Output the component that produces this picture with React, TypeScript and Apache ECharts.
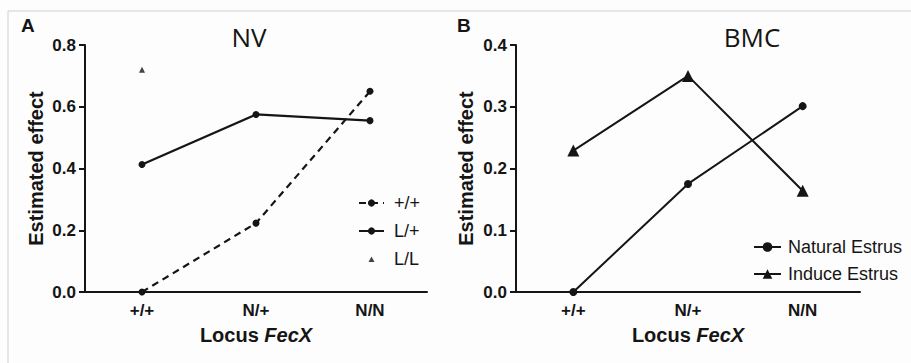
import React, { useEffect, useRef } from "react";
import * as echarts from "echarts";

const categories = ["+/+", "N/+", "N/N"];
// Panel A (NV)
const nvWildType = [0, 0.223, 0.65];
const nvLPlus = [0.413, 0.575, 0.555];
const nvLL = [0.72, null, null];
// Panel B (BMC)
const bmcNatural = [0, 0.175, 0.301];
const bmcInduce = [0.229, 0.35, 0.164];
const yTicksA = [0, 0.2, 0.4, 0.6, 0.8];
const yTicksB = [0, 0.1, 0.2, 0.3, 0.4];

const FONT = "'Liberation Sans', Arial, sans-serif";
const INK = "#151515";

function xAxisFor(gridIndex: number) {
  return {
    type: "category",
    gridIndex,
    data: categories,
    boundaryGap: true,
    axisLine: { lineStyle: { color: INK, width: 2 } },
    axisTick: { alignWithLabel: true, length: 6, lineStyle: { color: INK, width: 2 } },
    axisLabel: { color: INK, fontSize: 17, fontWeight: "bold", fontFamily: FONT, margin: 10 },
    name: "{a|Locus }{b|FecX}",
    nameLocation: "middle",
    nameGap: 33,
    nameTextStyle: {
      rich: {
        a: { fontSize: 20, fontWeight: "bold", fontFamily: FONT, color: INK },
        b: { fontSize: 20, fontWeight: "bold", fontStyle: "italic", fontFamily: FONT, color: INK },
      },
    },
  };
}

function yAxisFor(gridIndex: number, ticks: number[], gap: number) {
  const max = ticks[ticks.length - 1];
  return {
    type: "value",
    gridIndex,
    min: 0,
    max,
    interval: ticks[1] - ticks[0],
    splitLine: { show: false },
    axisLine: { show: true, lineStyle: { color: INK, width: 2 } },
    axisTick: { show: true, length: 6, lineStyle: { color: INK, width: 2 } },
    axisLabel: {
      color: INK,
      fontSize: 17,
      fontWeight: "bold",
      fontFamily: FONT,
      margin: 9,
      formatter: (v: number) => v.toFixed(1),
    },
    name: "Estimated effect",
    nameLocation: "middle",
    nameGap: gap,
    nameTextStyle: { fontSize: 20, fontWeight: "bold", fontFamily: FONT, color: INK },
  };
}

export default function App() {
  const ref = useRef<HTMLDivElement>(null);
  useEffect(() => {
    if (!ref.current) return;
    const chart = echarts.init(ref.current, undefined, { renderer: "svg" });
    chart.setOption({
      animation: false,
      backgroundColor: "#fdfdfd",
      grid: [
        { left: 85, top: 45, width: 342, height: 247 },
        { left: 516, top: 45, width: 344, height: 247 },
      ],
      xAxis: [xAxisFor(0), xAxisFor(1)],
      yAxis: [yAxisFor(0, yTicksA, 39), yAxisFor(1, yTicksB, 40)],
      legend: [
        {
          left: 353,
          top: 189,
          orient: "vertical",
          itemWidth: 25,
          itemHeight: 9,
          itemGap: 10,
          data: [
            "+/+",
            "L/+",
            { name: "L/L", icon: "path://M0,0M9,9M1.5,7.5L4.5,2L7.5,7.5Z" },
          ],
          textStyle: { fontSize: 18, fontFamily: FONT, color: INK, padding: [0, 0, 0, 5] },
        },
        {
          left: 748,
          top: 233,
          orient: "vertical",
          itemWidth: 27,
          itemHeight: 12,
          itemGap: 9,
          data: ["Natural Estrus", "Induce Estrus"],
          textStyle: { fontSize: 18, fontFamily: FONT, color: INK, padding: [0, 0, 0, 2] },
        },
      ],
      graphic: [
        {
          type: "rect",
          silent: true,
          shape: { x: 8, y: 11, width: 960, height: 420 },
          style: { fill: "none", stroke: "#cfcfcf", lineWidth: 1 },
        },
        {
          type: "text",
          left: 21,
          top: 16,
          style: { text: "A", font: `bold 19px ${FONT}`, fill: INK },
        },
        {
          type: "text",
          left: 457,
          top: 16,
          style: { text: "B", font: `bold 19px ${FONT}`, fill: INK },
        },
        {
          type: "text",
          x: 249,
          y: 37,
          style: {
            text: "NV",
            font: "26px 'Open Sans', sans-serif",
            fill: INK,
            textAlign: "center",
            textVerticalAlign: "middle",
          },
        },
        {
          type: "text",
          x: 752,
          y: 37,
          style: {
            text: "BMC",
            font: "26px 'Open Sans', sans-serif",
            fill: INK,
            textAlign: "center",
            textVerticalAlign: "middle",
          },
        },
      ],
      series: [
        {
          name: "+/+",
          type: "line",
          xAxisIndex: 0,
          yAxisIndex: 0,
          data: nvWildType,
          symbol: "circle",
          symbolSize: 7,
          itemStyle: { color: INK },
          lineStyle: { color: INK, width: 2.2, type: [7, 5] },
        },
        {
          name: "L/+",
          type: "line",
          xAxisIndex: 0,
          yAxisIndex: 0,
          data: nvLPlus,
          symbol: "circle",
          symbolSize: 7,
          itemStyle: { color: INK },
          lineStyle: { color: INK, width: 2.2 },
        },
        {
          name: "L/L",
          type: "scatter",
          xAxisIndex: 0,
          yAxisIndex: 0,
          data: nvLL,
          symbol: "triangle",
          symbolSize: 6,
          itemStyle: { color: INK },
        },
        {
          name: "Natural Estrus",
          type: "line",
          xAxisIndex: 1,
          yAxisIndex: 1,
          data: bmcNatural,
          symbol: "circle",
          symbolSize: 8,
          itemStyle: { color: INK },
          lineStyle: { color: INK, width: 2 },
        },
        {
          name: "Induce Estrus",
          type: "line",
          xAxisIndex: 1,
          yAxisIndex: 1,
          data: bmcInduce,
          symbol: "triangle",
          symbolSize: 12,
          itemStyle: { color: INK },
          lineStyle: { color: INK, width: 2 },
        },
      ],
    });
    return () => chart.dispose();
  }, []);
  return (
    <div
      ref={ref}
      style={{ position: "fixed", left: 0, top: 0, width: 911, height: 363 }}
    />
  );
}
